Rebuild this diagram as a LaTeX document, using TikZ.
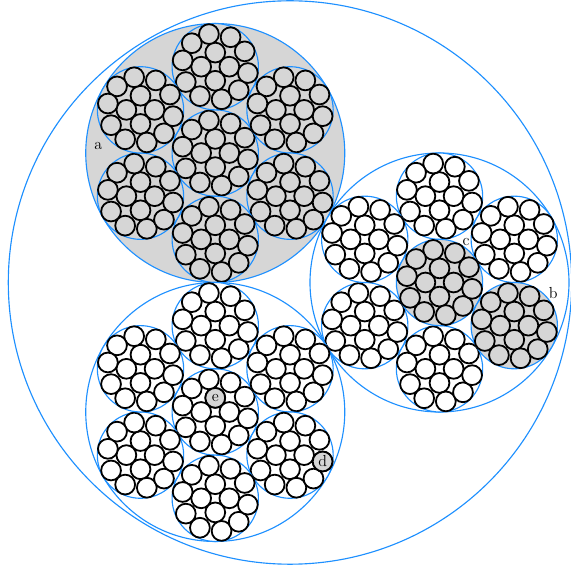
\documentclass[tikz,border=0pt]{standalone}
\usetikzlibrary{calc}
\definecolor{ropeblue}{RGB}{30,144,255}
\definecolor{ropegray}{RGB}{214,214,214}
\newcommand{\drawstrand}[3]{%
  \draw[sheath,fill=#2] (#1) circle (43.17);
  \foreach \w in {0,90,180,270}
    \draw[wire,fill=#3] ($(#1)+(\w:14.1)$) circle (9.9);
  \foreach \w in {27.5,62.5,101,135,169,207.5,242.5,281,315,349}
    \draw[wire,fill=#3] ($(#1)+(\w:33.2)$) circle (9.9);
}
\begin{document}
\begin{tikzpicture}[x=0.75pt,y=0.75pt,sheath/.style={draw=ropeblue,line width=0.85pt},wire/.style={draw=black,line width=1.35pt},graywire/.style={wire,fill=ropegray,circle,minimum size=14.85pt,inner sep=0pt,font=\large},tag/.style={font=\large,inner sep=0pt}]
\useasboundingbox (0,0) rectangle (571,571);
\coordinate (O) at (290,288.5);
\coordinate (A) at ($(O)+(120:149.5)$);
\coordinate (B) at ($(O)+(0:149.5)$);
\coordinate (C) at ($(O)+(240:149.5)$);
\draw[sheath] (O) circle (281.7);
% bundle a
\draw[sheath,fill=ropegray] (A) circle (129.5);
\foreach \s in {0,90,30,-30,-90,-150,150} {
  \ifnum\s=0 \coordinate (S) at (A); \else \coordinate (S) at ($(A)+(\s:86.33)$); \fi
  \drawstrand{S}{ropegray}{ropegray}
}
% bundle with strands b and c
\draw[sheath] (B) circle (129.5);
\foreach \s in {90,30,-90,-150,150} {
  \coordinate (S) at ($(B)+(\s:86.33)$);
  \drawstrand{S}{white}{white}
}
\coordinate (Bb) at ($(B)+(-30:86.33)$);
\drawstrand{B}{ropegray}{ropegray}
\drawstrand{Bb}{ropegray}{ropegray}
% bundle with wires d and e
\draw[sheath] (C) circle (129.5);
\foreach \s in {0,90,30,-30,-90,-150,150} {
  \ifnum\s=0 \coordinate (S) at (C); \else \coordinate (S) at ($(C)+(\s:86.33)$); \fi
  \drawstrand{S}{white}{white}
}
\coordinate (Cd) at ($(C)+(-30:86.33)$);
\node[graywire] (e) at ($(C)+(90:14.1)$) {e};
\node[graywire] (d) at ($(Cd)+(349:33.2)$) {d};
% labels
\node[tag] (la) at ($(A)+(-117,7.3)$) {a};
\node[tag] (lb) at ($(Bb)+(39,33)$) {b};
\node[tag] (lc) at ($(B)+(26.5,40.8)$) {c};
\end{tikzpicture}
\end{document}
